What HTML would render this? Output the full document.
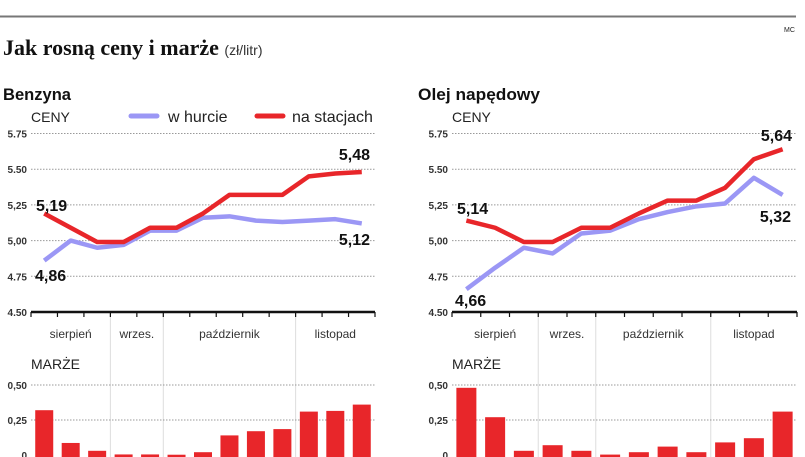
<!DOCTYPE html>
<html><head><meta charset="utf-8"><style>
html,body{margin:0;padding:0;background:#fff;width:805px;height:457px;overflow:hidden}
svg text{font-family:"Liberation Sans",sans-serif}
</style></head><body>
<svg id="c" width="805" height="457" viewBox="0 0 805 457">
<line x1="0" y1="16.5" x2="796" y2="16.5" stroke="#777" stroke-width="2"/>
<text x="784" y="32" font-size="7" fill="#222">MC</text>
<text x="3" y="55" font-weight="bold" font-size="22" fill="#111" style="font-family:'Liberation Serif',serif">Jak rosną ceny i marże <tspan font-weight="normal" font-size="14" fill="#333" style="font-family:'Liberation Sans',sans-serif">(zł/litr)</tspan></text>
<text x="3" y="100" font-weight="bold" font-size="17" fill="#111" textLength="68" lengthAdjust="spacingAndGlyphs">Benzyna</text>
<text x="418" y="100" font-weight="bold" font-size="17" fill="#111" textLength="122" lengthAdjust="spacingAndGlyphs">Olej napędowy</text>
<g>
<line x1="131" y1="116" x2="157" y2="116" stroke="#9b97f5" stroke-width="5" stroke-linecap="round"/>
<text x="168" y="122" font-size="16" fill="#222">w hurcie</text>
<line x1="257" y1="116" x2="283" y2="116" stroke="#e8262a" stroke-width="5" stroke-linecap="round"/>
<text x="292" y="122" font-size="16" fill="#222">na stacjach</text>
</g>
</svg>
<script>
const months = ["sierpień","wrzes.","październik","listopad"];
const yTicks = [4.50,4.75,5.00,5.25,5.50,5.75];
const yTickLabels = ["4.50","4.75","5,00","5,25","5.50","5.75"];
const mTicks = [0,0.25,0.5];
const mTickLabels = ["0","0,25","0,50"];
const benzHurt = [4.86,5.00,4.95,4.97,5.07,5.07,5.16,5.17,5.14,5.13,5.14,5.15,5.12];
const benzStacje = [5.19,5.09,4.99,4.99,5.09,5.09,5.19,5.32,5.32,5.32,5.45,5.47,5.48];
const benzMarze = [0.32,0.086,0.03,0.004,0.004,0.002,0.02,0.14,0.17,0.185,0.31,0.315,0.36];
const benzMonthBounds = [0,3,5,10,13];
const olejHurt = [4.66,4.81,4.95,4.91,5.05,5.07,5.15,5.20,5.24,5.26,5.44,5.32];
const olejStacje = [5.14,5.09,4.99,4.99,5.09,5.09,5.19,5.28,5.28,5.37,5.57,5.64];
const olejMarze = [0.48,0.27,0.03,0.07,0.03,0.003,0.02,0.06,0.02,0.09,0.12,0.31];
const olejMonthBounds = [0,3,5,9,12];

const svg=document.getElementById('c');
const NS='http://www.w3.org/2000/svg';
function mk(tag,attrs,parent){const e=document.createElementNS(NS,tag);for(const k in attrs)e.setAttribute(k,attrs[k]);(parent||svg).appendChild(e);return e;}

function panel(p){
  const g=mk('g',{});
  
  
  const n=p.hurt.length, step=(p.x1-p.x0)/n;
  const xc=i=>p.x0+step*(i+0.5);
  const y=v=>312-(v-4.5)/1.25*178.5;
  const ym=v=>455-v/0.25*35;
  let t=mk('text',{x:p.x0,y:122,'font-size':14,fill:'#222'},g);t.textContent='CENY';
  
  yTicks.forEach((v,i)=>{
    if(i>0){const l=mk('line',{x1:p.x0,x2:p.x1,y1:y(v),y2:y(v),stroke:'#999','stroke-width':1,'stroke-dasharray':'1.5 1.5'},g);
      }
    const tx=mk('text',{x:p.x0-4,y:y(v)+4,'font-size':10,'font-weight':'bold',fill:'#333','text-anchor':'end'},g);
    tx.textContent=yTickLabels[i];
    
  });
  p.bounds.forEach((b,i)=>{
    if(i>0&&i<p.bounds.length-1){const l=mk('line',{x1:p.x0+b*step,x2:p.x0+b*step,y1:312,y2:457,stroke:'#ddd','stroke-width':1},g);
      }
    if(i<p.bounds.length-1){const tx=mk('text',{x:p.x0+(b+p.bounds[i+1])/2*step,y:338,'font-size':12,fill:'#333','text-anchor':'middle'},g);
      tx.textContent=months[i];}
  });
  const ax=mk('line',{x1:p.x0,x2:p.x1,y1:312,y2:312,stroke:'#111','stroke-width':2.5},g);
  
  for(let i=0;i<=n;i++){const l=mk('line',{x1:p.x0+i*step,x2:p.x0+i*step,y1:312,y2:317,stroke:'#111','stroke-width':1.2},g);
    }
  const line=(arr,col,nm)=>{const pl=mk('polyline',{points:arr.map((v,i)=>xc(i)+','+y(v)).join(' '),fill:'none',stroke:col,'stroke-width':4.5,'stroke-linejoin':'round'},g);
    };
  line(p.hurt,'#9b97f5','line-hurt');
  line(p.stacje,'#e8262a','line-stacje');
  p.labels.forEach(L=>{const tx=mk('text',{x:L[0],y:L[1],'font-size':16,'font-weight':'bold',fill:'#111','text-anchor':L[3]||'start'},g);
    tx.textContent=L[2];});
  t=mk('text',{x:p.x0,y:369,'font-size':14,fill:'#222'},g);t.textContent='MARŻE';
  
  mTicks.forEach((v,i)=>{
    if(i>0){const l=mk('line',{x1:p.x0,x2:p.x1,y1:ym(v),y2:ym(v),stroke:'#999','stroke-width':1,'stroke-dasharray':'1.5 1.5'},g);
      }
    const tx=mk('text',{x:p.x0-4,y:ym(v)+4,'font-size':10,'font-weight':'bold',fill:'#333','text-anchor':'end'},g);
    tx.textContent=mTickLabels[i];
  });
  p.marze.forEach((v,i)=>{const h=v/0.25*35;
    const r=mk('rect',{x:xc(i)-p.bw/2,y:455-h,width:p.bw,height:h+2,fill:'#e8262a'},g);
    });
}
panel({name:'benzyna-panel',x0:31,x1:375,hurt:benzHurt,stacje:benzStacje,marze:benzMarze,bounds:benzMonthBounds,bw:18,
  labels:[[36,211,'5,19'],[35,281,'4,86'],[370,160,'5,48','end'],[370,245,'5,12','end']]});
panel({name:'olej-panel',x0:452,x1:797,hurt:olejHurt,stacje:olejStacje,marze:olejMarze,bounds:olejMonthBounds,bw:20,
  labels:[[457,214,'5,14'],[455,306,'4,66'],[792,141,'5,64','end'],[791,222,'5,32','end']]});
</script>
</body></html>
